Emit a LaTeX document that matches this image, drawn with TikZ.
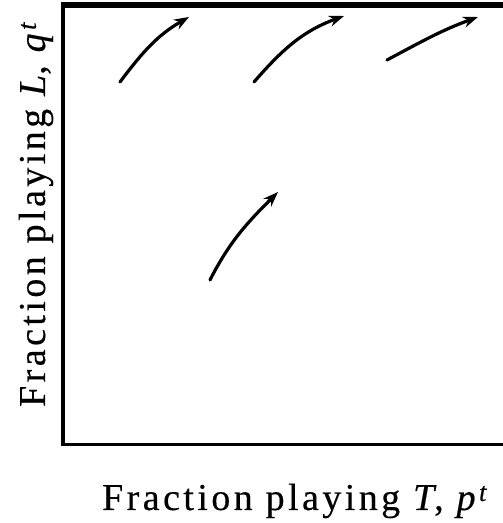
\documentclass[tikz,border=0pt]{standalone}
\usepackage{fontspec}
\setmainfont{Liberation Serif}
\newfontfamily\axisfont[LetterSpace=9, FakeBold=0.4]{Liberation Serif}
\usepackage{tikz}
\usetikzlibrary{positioning, arrows.meta}

\begin{document}
\begin{tikzpicture}[
  x=1pt, y=1pt,
  frame/.style={draw=black, line cap=butt},
  flow/.style={-{Stealth[length=15pt, width=11pt]}, line width=3.2pt, line cap=round},
  axislabel/.style={inner sep=0pt, font=\axisfont\fontsize{38}{44}\selectfont}
]
\useasboundingbox (0,0) rectangle (503,523);

%% Frame
\draw[frame, line width=6.5pt] (61.3,518) -- (503,518);
\draw[frame, line width=3.5pt] (63,521.2) -- (63,76.8);
\draw[frame, line width=3pt] (61.3,78.5) -- (503,78.5);

%% Axis labels
\node[axislabel, anchor=base] (xlabel) at (296,13) {Fraction playing \textit{T}, \textit{p}\textsuperscript{\textit{t}}};
\node[axislabel, anchor=base, rotate=90] (ylabel) at (45,310) {Fraction playing \textit{L}, \textit{q}\textsuperscript{\textit{t}}};

%% Trajectories
\coordinate (a1s) at (120,441);
\coordinate (a1e) at (189,506);
\coordinate (a2s) at (254,441);
\coordinate (a2e) at (344,507);
\coordinate (a3s) at (387,463);
\coordinate (a3e) at (478,506);
\coordinate (a4s) at (210,243);
\coordinate (a4e) at (278,331);

\draw[flow] (a1s) to[out=53, in=210] (a1e);
\draw[flow] (a2s) to[out=49, in=200] (a2e);
\draw[flow] (a3s) to[out=28, in=200] (a3e);
\draw[flow] (a4s) to[out=63, in=225] (a4e);

\end{tikzpicture}
\end{document}
